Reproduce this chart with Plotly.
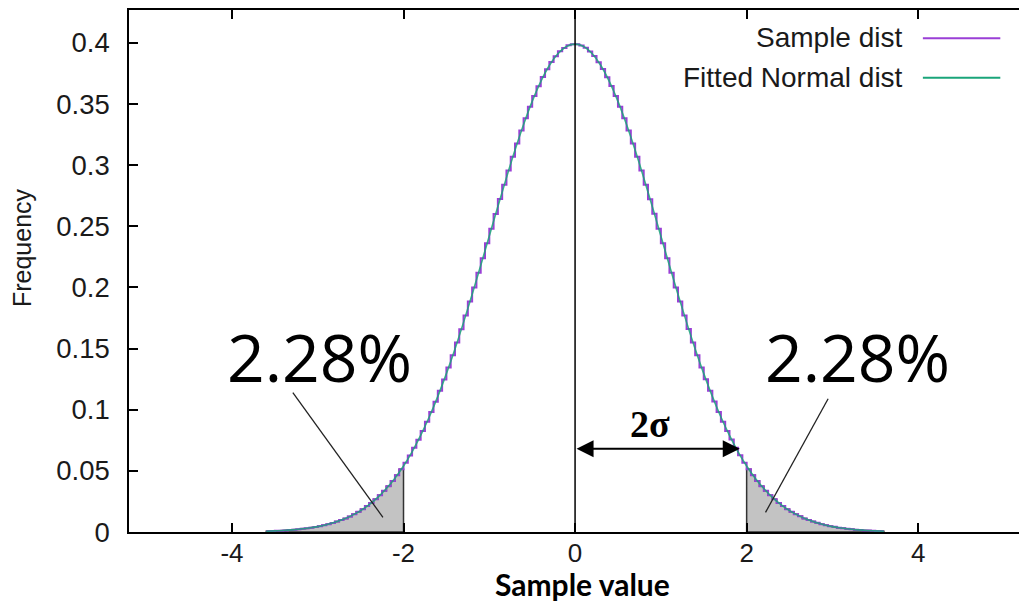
import numpy as np
import plotly.graph_objects as go

# Histogram of the sample: bins of width 0.05 from -3.6 to 3.6
bin_start = -3.6
bin_width = 0.05
sample_freq = [
    0.0007, 0.0008, 0.0010, 0.0011, 0.0013, 0.0016, 0.0019, 0.0022, 0.0026, 0.0030,
    0.0035, 0.0041, 0.0048, 0.0055, 0.0064, 0.0074, 0.0085, 0.0098, 0.0111, 0.0127,
    0.0146, 0.0165, 0.0187, 0.0212, 0.0238, 0.0267, 0.0300, 0.0337, 0.0375, 0.0417,
    0.0463, 0.0514, 0.0567, 0.0626, 0.0689, 0.0755, 0.0826, 0.0902, 0.0981, 0.1065,
    0.1155, 0.1247, 0.1344, 0.1446, 0.1550, 0.1658, 0.1771, 0.1884, 0.2000, 0.2120,
    0.2239, 0.2360, 0.2480, 0.2601, 0.2722, 0.2839, 0.2955, 0.3068, 0.3177, 0.3282,
    0.3383, 0.3476, 0.3565, 0.3645, 0.3720, 0.3784, 0.3842, 0.3890, 0.3930, 0.3958,
    0.3979, 0.3988,
    0.3988, 0.3978, 0.3959, 0.3929, 0.3891, 0.3841, 0.3785, 0.3719, 0.3646, 0.3564,
    0.3477, 0.3382, 0.3283, 0.3177, 0.3068, 0.2955, 0.2840, 0.2721, 0.2602, 0.2480,
    0.2360, 0.2239, 0.2120, 0.2000, 0.1885, 0.1770, 0.1659, 0.1550, 0.1446, 0.1344,
    0.1248, 0.1154, 0.1066, 0.0981, 0.0902, 0.0826, 0.0756, 0.0688, 0.0627, 0.0567,
    0.0514, 0.0463, 0.0418, 0.0375, 0.0337, 0.0300, 0.0268, 0.0238, 0.0212, 0.0187,
    0.0166, 0.0145, 0.0128, 0.0111, 0.0098, 0.0085, 0.0075, 0.0064, 0.0056, 0.0048,
    0.0042, 0.0035, 0.0031, 0.0026, 0.0023, 0.0019, 0.0016, 0.0013, 0.0012, 0.0010,
    0.0008, 0.0007,
]

# Fitted normal curve, sampled every 0.1 from -3.6 to 3.6
fit_start = -3.6
fit_step = 0.1
fit_density = [
    0.0006, 0.0009, 0.0012, 0.0017, 0.0024, 0.0033, 0.0044, 0.0060, 0.0079, 0.0104,
    0.0136, 0.0175, 0.0224, 0.0283, 0.0355, 0.0440, 0.0540, 0.0656, 0.0790, 0.0940,
    0.1109, 0.1295, 0.1497, 0.1714, 0.1942, 0.2179, 0.2420, 0.2661, 0.2897, 0.3123,
    0.3332, 0.3521, 0.3683, 0.3814, 0.3910, 0.3970, 0.3989, 0.3970, 0.3910, 0.3814,
    0.3683, 0.3521, 0.3332, 0.3123, 0.2897, 0.2661, 0.2420, 0.2179, 0.1942, 0.1714,
    0.1497, 0.1295, 0.1109, 0.0940, 0.0790, 0.0656, 0.0540, 0.0440, 0.0355, 0.0283,
    0.0224, 0.0175, 0.0136, 0.0104, 0.0079, 0.0060, 0.0044, 0.0033, 0.0024, 0.0017,
    0.0012, 0.0009, 0.0006,
]

x_ticks = [-4, -2, 0, 2, 4]
x_tick_labels = ["-4", "-2", "0", "2", "4"]
y_ticks = [0, 0.05, 0.1, 0.15, 0.2, 0.25, 0.3, 0.35, 0.4]
y_tick_labels = ["0", "0.05", "0.1", "0.15", "0.2", "0.25", "0.3", "0.35", "0.4"]

tail_cut = 2.0          # shaded tails beyond +/- 2 sigma
tail_label = "2.28%"
sigma_arrow_y = 0.068
sigma_arrow_end = 1.92

PURPLE = "#9a3fd6"
GREEN = "#1aa57a"
GNU_FONT = "Liberation Sans"

freq = np.array(sample_freq)
edges = bin_start + bin_width * np.arange(len(freq) + 1)
fit_x = fit_start + fit_step * np.arange(len(fit_density))


def tail_polygon(mask):
    idx = np.where(mask)[0]
    xs, ys = [edges[idx[0]]], [0.0]
    for i in idx:
        xs += [edges[i], edges[i + 1]]
        ys += [freq[i], freq[i]]
    xs.append(edges[idx[-1] + 1])
    ys.append(0.0)
    xs.append(edges[idx[0]])
    ys.append(0.0)
    return xs, ys


fig = go.Figure()

left_mask = edges[1:] <= -tail_cut + 1e-9
right_mask = edges[:-1] >= tail_cut - 1e-9
for m in (left_mask, right_mask):
    px, py = tail_polygon(m)
    fig.add_trace(go.Scatter(
        x=px, y=py, mode="lines", fill="toself", fillcolor="#c3c3c3",
        line=dict(color="#333333", width=1.5), hoverinfo="skip", showlegend=False,
    ))

fig.add_trace(go.Scatter(
    x=edges, y=list(freq) + [freq[-1]], mode="lines", line_shape="hv",
    line=dict(color=PURPLE, width=2), name="Sample dist", showlegend=False,
))
fig.add_trace(go.Scatter(
    x=fit_x, y=fit_density, mode="lines", line_shape="spline",
    line=dict(color=GREEN, width=1.6), name="Fitted Normal dist", showlegend=False,
    opacity=0.85,
))

shapes = [
    # vertical marker at the mean
    dict(type="line", xref="x", yref="y domain", x0=0, x1=0, y0=0, y1=1,
         line=dict(color="black", width=1.5)),
    # pointer lines from the percentage labels to the tails
    dict(type="line", xref="x", yref="y", x0=-3.29, y0=0.114, x1=-2.24, y1=0.012,
         line=dict(color="#222222", width=1.3)),
    dict(type="line", xref="x", yref="y", x0=2.95, y0=0.109, x1=2.22, y1=0.016,
         line=dict(color="#222222", width=1.3)),
    # legend samples
    dict(type="line", xref="paper", yref="paper", x0=0.892, x1=0.979, y0=0.946, y1=0.946,
         line=dict(color=PURPLE, width=2)),
    dict(type="line", xref="paper", yref="paper", x0=0.892, x1=0.979, y0=0.870, y1=0.870,
         line=dict(color=GREEN, width=2)),
]

annotations = [
    dict(x=sigma_arrow_end, y=sigma_arrow_y, ax=0, ay=sigma_arrow_y,
         xref="x", yref="y", axref="x", ayref="y", text="", showarrow=True,
         arrowhead=2, startarrowhead=2, arrowside="end+start",
         arrowsize=1.7, startarrowsize=1.7, arrowwidth=2, arrowcolor="black",
         standoff=0, startstandoff=0),
    dict(x=0.87, y=0.088, xref="x", yref="y", text="<b>2σ</b>", showarrow=False,
         font=dict(family="Liberation Serif", size=38, color="black")),
    dict(x=-2.98, y=0.1435, xref="x", yref="y", text=tail_label, showarrow=False,
         font=dict(family="Open Sans", size=66, color="black")),
    dict(x=3.29, y=0.1435, xref="x", yref="y", text=tail_label, showarrow=False,
         font=dict(family="Open Sans", size=66, color="black")),
    dict(x=0.872, y=0.948, xref="paper", yref="paper", xanchor="right", yanchor="middle",
         text="Sample dist", showarrow=False,
         font=dict(family=GNU_FONT, size=28, color="#1a1a1a")),
    dict(x=0.872, y=0.871, xref="paper", yref="paper", xanchor="right", yanchor="middle",
         text="Fitted Normal dist", showarrow=False,
         font=dict(family=GNU_FONT, size=28, color="#1a1a1a")),
    dict(x=0, y=0.544, xref="paper", yref="paper", xanchor="center", yanchor="middle",
         xshift=-107, textangle=-90, text="Frequency", showarrow=False,
         font=dict(family=GNU_FONT, size=25, color="#1a1a1a")),
    dict(x=0.51, y=0, xref="paper", yref="paper", xanchor="center", yanchor="bottom",
         yshift=-71, borderpad=0, text="<b>Sample value</b>", showarrow=False,
         font=dict(family="Lato", size=30, color="black")),
]

fig.update_layout(
    width=1019, height=602,
    margin=dict(l=129, r=0, t=10, b=70),
    paper_bgcolor="white", plot_bgcolor="white",
    shapes=shapes, annotations=annotations,
    xaxis=dict(
        range=[-5.2, 5.175], tickmode="array", tickvals=x_ticks, ticktext=x_tick_labels,
        ticks="inside", ticklen=9, tickwidth=1.5, tickcolor="black",
        showline=True, linecolor="black", linewidth=1.5, mirror="ticks",
        showgrid=False, zeroline=False, ticklabelstandoff=-3,
        tickfont=dict(family=GNU_FONT, size=26, color="#1a1a1a"),
    ),
    yaxis=dict(
        range=[0, 0.4268], tickmode="array", tickvals=y_ticks, ticktext=y_tick_labels,
        ticks="inside", ticklen=9, tickwidth=1.5, tickcolor="black",
        showline=True, linecolor="black", linewidth=1.5, mirror=False,
        showgrid=False, zeroline=False, ticklabelstandoff=12,
        tickfont=dict(family=GNU_FONT, size=27.5, color="#1a1a1a"),
    ),
)

fig.write_html("out.html")
